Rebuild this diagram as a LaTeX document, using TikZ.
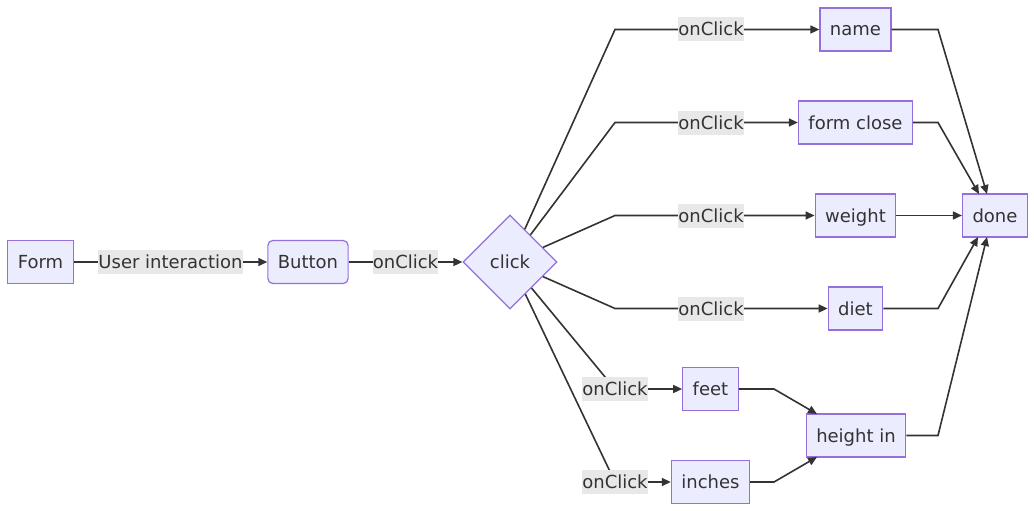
\documentclass[tikz,border=0pt]{standalone}
\usepackage{fontspec}
\setmainfont{DejaVu Sans}
\usetikzlibrary{arrows.meta,shapes.geometric}
\definecolor{nodefill}{HTML}{ECECFF}
\definecolor{nodeline}{HTML}{9370DB}
\definecolor{ink}{HTML}{333333}
\definecolor{lblfill}{HTML}{E8E8E8}
\begin{document}
\begin{tikzpicture}[x=1pt, y=-1pt, line width=1.6pt,
  font=\fontsize{18}{22}\selectfont, text=ink,
  box/.style={draw=nodeline, fill=nodefill, line width=1.2pt, inner xsep=10pt,
    minimum height=43pt, text height=16pt, text depth=3pt},
  lbl/.style={fill=lblfill, inner xsep=0pt, inner ysep=2.5pt, text height=16pt, text depth=3pt},
  edge/.style={draw=ink, -{Triangle[length=9pt, width=8pt]}}]
  \useasboundingbox (0,0) rectangle (1034,511);
  % 노드
  \node[box] (form) at (40.5,262) {Form};
  \node[box, rounded corners=5pt] (button) at (308,262) {Button};
  \node[draw=nodeline, fill=nodefill, line width=1.2pt, diamond, minimum size=94pt,
    inner sep=0pt, text height=16pt, text depth=3pt] (click) at (510,262) {click};
  \foreach \n/\t/\y in {name/name/29.5, formclose/form close/122.5, weight/weight/215.5, diet/diet/308.5}{
    \node[box] (\n) at (855.5,\y) {\t};
  }
  \node[box] (done) at (995,215.5) {done};
  \node[box] (feet) at (710.5,389) {feet};
  \node[box] (inches) at (710.5,482) {inches};
  \node[box] (heightin) at (856,435.5) {height in};
  % 왼쪽 연결선
  \draw[edge] (form) -- (button);
  \draw[edge] (button) -- (click);
  \node[lbl] (lui) at (170.5,262) {User interaction};
  \node[lbl] (lbc) at (405.5,262) {onClick};
  % click에서 나가는 연결선
  \foreach \n/\y in {name/29.5, formclose/122.5, weight/215.5, diet/308.5}{
    \draw[edge] (click) -- (615,\y) -- (\n);
    \node[lbl] (l\n) at (711,\y) {onClick};
  }
  \foreach \n/\y in {feet/389, inches/482}{
    \draw[edge] (click) -- (615,\y) -- (\n);
    \node[lbl] (l\n) at (615,\y) {onClick};
  }
  % done으로 모이는 연결선
  \draw[edge] (name.east) -- (938,29.5) -- (987,194);
  \draw[edge] (formclose.east) -- (938,122.5) -- (979,194);
  \draw[edge] (weight) -- (done);
  \draw[edge] (diet.east) -- (938,308.5) -- (978,237);
  \draw[edge] (heightin.east) -- (938,435.5) -- (987,237);
  % height in으로 모이는 연결선
  \draw[edge] (feet.east) -- (774,389) -- (817,414);
  \draw[edge] (inches.east) -- (774,482) -- (817,457);
\end{tikzpicture}
\end{document}
